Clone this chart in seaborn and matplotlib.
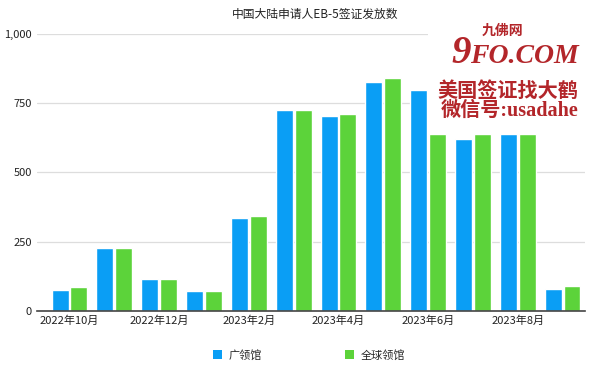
import matplotlib
matplotlib.use("Agg")
import matplotlib.pyplot as plt
from matplotlib.patches import Patch, Rectangle
import pandas as pd
import seaborn as sns

# data
months = ["2022年10月", "2022年11月", "2022年12月", "2023年1月", "2023年2月", "2023年3月",
          "2023年4月", "2023年5月", "2023年6月", "2023年7月", "2023年8月", "2023年9月"]
guangzhou = [77, 226, 116, 72, 337, 724, 703, 827, 797, 619, 638, 81]
worldwide = [85, 229, 117, 73, 342, 724, 710, 840, 638, 638, 638, 89]
series_names = ["广领馆", "全球领馆"]
colors = ["#0A9EF5", "#5CD33A"]
y_ticks = [0, 250, 500, 750, 1000]
y_ticklabels = ["0", "250", "500", "750", "1,000"]

sns.set_style("white")
plt.rcParams["font.family"] = ["Noto Sans CJK SC", "DejaVu Sans"]

df = pd.DataFrame({
    "month": months * 2,
    "count": guangzhou + worldwide,
    "series": [series_names[0]] * len(months) + [series_names[1]] * len(months),
})

W, H = 600, 368
fig = plt.figure(figsize=(W / 100, H / 100), dpi=100)
ax = fig.add_axes([0.062, 0.155, 0.913, 0.753])

sns.barplot(data=df, x="month", y="count", hue="series", palette=colors,
            width=0.84, gap=0.1, saturation=1, legend=False, ax=ax)

ax.set_ylim(0, 1000)
ax.set_xlim(-0.72, 11.5)
ax.set_yticks(y_ticks)
ax.set_yticklabels(y_ticklabels, fontsize=8, color="#222222")
ax.yaxis.grid(True, color="#dddddd", linewidth=0.9)
ax.set_axisbelow(True)

ax.set_xticks(range(0, 12, 2))
ax.set_xticklabels(months[::2], fontsize=8, color="#222222")
ax.tick_params(axis="both", length=0)
ax.tick_params(axis="x", pad=3)
ax.tick_params(axis="y", pad=4)
ax.set_xlabel("")
ax.set_ylabel("")

for side in ["top", "right", "left"]:
    ax.spines[side].set_visible(False)
ax.spines["bottom"].set_color("#444444")
ax.spines["bottom"].set_linewidth(1.2)

fig.text(0.525, 0.962, "中国大陆申请人EB-5签证发放数", ha="center", va="center",
         fontsize=8.5, color="#222222")

handles = [Patch(facecolor=c, edgecolor="none") for c in colors]
fig.legend(handles, series_names, loc="center", bbox_to_anchor=(0.515, 0.035), ncol=2,
           frameon=False, fontsize=8, handlelength=0.8, handleheight=0.8,
           handletextpad=0.6, columnspacing=7.5)

# watermark overlay (pixel positions converted to figure fractions)
def px(x, y):
    return x / W, 1 - y / H

red = "#B3262A"
serif_cjk = ["Liberation Serif", "Noto Sans CJK SC"]
fig.patches.append(Rectangle(px(428, 124), 160 / W, 102 / H, transform=fig.transFigure,
                             facecolor="white", edgecolor="none", zorder=5))
fig.text(*px(502, 31), "九佛网", color=red, fontsize=10, fontweight="bold",
         ha="center", va="center", zorder=6)
fig.text(*px(471, 63), "9", color=red, fontsize=28, fontweight="bold", style="italic",
         family="Liberation Serif", ha="right", va="baseline", zorder=6)
fig.text(*px(470, 63), "FO.COM", color=red, fontsize=20, fontweight="bold", style="italic",
         family="Liberation Serif", ha="left", va="baseline", zorder=6)
fig.text(*px(508, 90), "美国签证找大鹤", color=red, fontsize=14.5, fontweight="bold",
         ha="center", va="center", zorder=6)
fig.text(*px(510, 111), "微信号:usadahe", color=red, fontsize=14.5, fontweight="bold",
         family=serif_cjk, ha="center", va="center", zorder=6)

fig.savefig("out.png", dpi=100)
